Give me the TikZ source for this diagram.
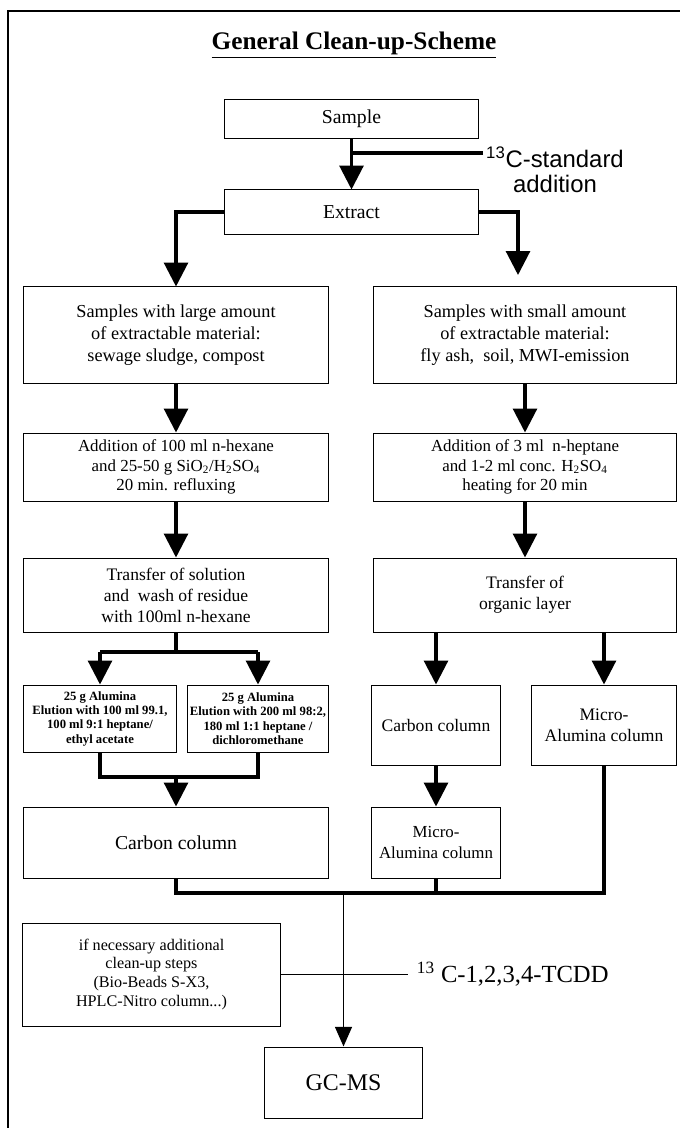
\documentclass[tikz,border=0pt]{standalone}
\usepackage{fontspec}
\setmainfont{Liberation Serif}
\newfontfamily\labelsans{Liberation Sans}
\usetikzlibrary{arrows.meta}

\begin{document}
\begin{tikzpicture}[x=0.025cm, y=-0.025cm,
    box/.style={draw, line width=0.7pt, inner sep=0pt, align=center},
    line/.style={line width=2.2pt},
    arrow/.style={line width=2.2pt, -{Triangle[width=17pt,length=17pt]}},
    thinarrow/.style={line width=1.3pt, -{Triangle[width=12pt,length=14pt]}},
    headtext/.style={font=\fontsize{14}{16}\selectfont},
    boxtext/.style={font=\fontsize{13}{15.5}\selectfont},
    steptext/.style={font=\fontsize{12}{13.8}\selectfont},
    alutext/.style={font=\fontsize{9}{10.2}\selectfont\bfseries},
    labeltext/.style={font=\fontsize{17.5}{19}\selectfont}]
      \useasboundingbox (0,0) rectangle (680,1128);
      % frame
      \draw[line width=1.6pt] (8,1128) -- (8,11) -- (680,11);
      \node[font=\fontsize{18}{20}\selectfont\bfseries] (title) at (354,45) {\underline{General Clean-up-Scheme}};

      % top part
      \node[box, headtext, minimum width=6.325cm, minimum height=0.95cm] (sample) at (351.5,119) {Sample};
      \node[box, headtext, minimum width=6.325cm, minimum height=1.1cm] (extract) at (351.5,212) {Extract};
      \draw[arrow] (sample) -- (extract);
      \coordinate (stdend) at (483,153);
      \draw[line] (stdend) -- (stdend -| sample.south);
      \node[font=\fontsize{17}{18}\selectfont\labelsans, align=center] (stdlbl) at (555,170)
           {\textsuperscript{13}C-standard\\addition};

      % two columns
      \node[box, boxtext, minimum width=7.6cm, minimum height=2.4cm] (largeS) at (176,335)
           {Samples with large amount\\of extractable material:\\sewage sludge, compost};
      \node[box, boxtext, minimum width=7.55cm, minimum height=2.4cm] (smallS) at (525,335)
           {Samples with small amount\\of extractable material:\\fly ash,\ \ soil, MWI-emission};
      \coordinate (brR) at (518,275);
      \draw[arrow] (extract.west) -| (largeS.north);
      \draw[arrow] (extract.east) -| (brR);

      \node[box, steptext, minimum width=7.6cm, minimum height=1.7cm] (addL) at (176,467)
           {Addition of 100 ml n-hexane\\and 25-50 g SiO\textsubscript{2}/H\textsubscript{2}SO\textsubscript{4}\\20 min. refluxing};
      \node[box, steptext, minimum width=7.55cm, minimum height=1.7cm] (addR) at (525,467)
           {Addition of 3 ml\ \ n-heptane\\and 1-2 ml conc. H\textsubscript{2}SO\textsubscript{4}\\heating for 20 min};
      \draw[arrow] (largeS) -- (addL);
      \draw[arrow] (smallS) -- (addR);

      \node[box, steptext, font=\fontsize{12.5}{15}\selectfont, minimum width=7.6cm, minimum height=1.85cm] (trL) at (176,595)
           {Transfer of solution\\and\ \ wash of residue\\with 100ml n-hexane};
      \node[box, steptext, font=\fontsize{12.5}{15}\selectfont, minimum width=7.55cm, minimum height=1.85cm] (trR) at (525,595)
           {Transfer of\\organic layer};
      \draw[arrow] (addL) -- (trL);
      \draw[arrow] (addR) -- (trR);

      % left branch
      \node[box, alutext, minimum width=3.8cm, minimum height=1.675cm] (aluL) at (100,718.5)
           {25 g Alumina\\Elution with 100 ml 99.1,\\100 ml 9:1 heptane/\\ethyl acetate};
      \node[box, alutext, minimum width=3.5cm, minimum height=1.675cm] (aluR) at (258,718.5)
           {25 g Alumina\\Elution with 200 ml 98:2,\\180 ml 1:1 heptane /\\dichloromethane};
      \coordinate (splitL) at (176,652);
      \draw[line] (trL.south) -- (splitL);
      \draw[line] (splitL -| aluL.north) -- (splitL -| aluR.north);
      \draw[arrow] (splitL -| aluL.north) -- (aluL.north);
      \draw[arrow] (splitL -| aluR.north) -- (aluR.north);

      % right branch
      \node[box, font=\fontsize{12.5}{15}\selectfont, minimum width=3.2cm, minimum height=2cm] (carbR) at (436,725) {Carbon column};
      \node[box, font=\fontsize{12.5}{15}\selectfont, minimum width=3.6cm, minimum height=2cm] (microR) at (604,725) {Micro-\\Alumina column};
      \draw[arrow] (trR.south -| carbR.north) -- (carbR.north);
      \draw[arrow] (trR.south -| microR.north) -- (microR.north);

      % lower boxes
      \node[box, font=\fontsize{14}{16}\selectfont, minimum width=7.6cm, minimum height=1.775cm] (carbL) at (176,842.5) {Carbon column};
      \node[box, font=\fontsize{12}{15}\selectfont, minimum width=3.2cm, minimum height=1.775cm] (microM) at (436,842.5) {Micro-\\Alumina column};
      \coordinate (mergeA) at (176,777);
      \draw[line] (aluL.south) |- (mergeA) -| (aluR.south);
      \draw[arrow] (mergeA) -- (carbL.north);
      \draw[arrow] (carbR) -- (microM);

      % merge and GC-MS
      \node[box, font=\fontsize{11.5}{13.5}\selectfont, minimum width=6.425cm, minimum height=2.575cm] (addl) at (151.5,974.5)
           {if necessary additional\\clean-up steps\\(Bio-Beads S-X3,\\HPLC-Nitro column...)};
      \node[box, font=\fontsize{17}{19}\selectfont, minimum width=3.925cm, minimum height=1.775cm] (gcms) at (343.5,1082.5) {GC-MS};
      \coordinate (mergeB) at (343.5,893);
      \draw[line] (carbL.south) |- (mergeB) -| (microR.south);
      \draw[line] (microM.south) -- (microM.south |- mergeB);
      \draw[thinarrow] (mergeB) -- (gcms.north);
      \coordinate (tcddend) at (408,974.5);
      \draw[line width=1.3pt] (addl.east) -- (tcddend);
      \node[labeltext, anchor=west] (tcdd) at (412,974.5) {\textsuperscript{13} C-1,2,3,4-TCDD};
\end{tikzpicture}
\end{document}
